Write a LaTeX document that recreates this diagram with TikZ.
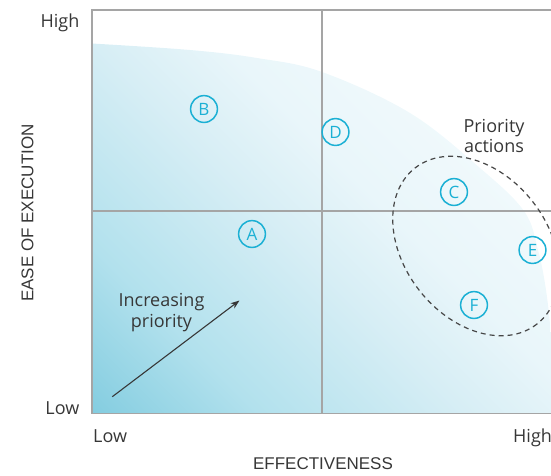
\documentclass[tikz,border=0pt]{standalone}
\usepackage{fontspec}
\setmainfont{Open Sans}
\newfontfamily\axisfont{Liberation Sans}
\usetikzlibrary{arrows.meta}
\definecolor{cy}{RGB}{27,176,212}
\definecolor{gridgray}{RGB}{165,165,165}
\definecolor{txt}{RGB}{55,55,55}
\definecolor{dashgray}{RGB}{70,70,70}
\definecolor{shA}{RGB}{132,205,224}
\definecolor{shB}{RGB}{178,225,237}
\definecolor{shC}{RGB}{215,238,245}
\definecolor{shD}{RGB}{233,246,250}
\definecolor{shE}{RGB}{250,253,254}
\pgfdeclarehorizontalshading{quadshade}{100bp}{color(0bp)=(shA); color(14.64bp)=(shA); color(28.8bp)=(shB); color(46.5bp)=(shC); color(57.1bp)=(shD); color(85.4bp)=(shE); color(100bp)=(shE)}
\begin{document}
\begin{tikzpicture}[x=1pt,y=-1pt,
  lbl/.style={font=\fontsize{18}{20}\selectfont, text=txt, inner sep=0pt},
  axt/.style={font=\axisfont\fontsize{17}{20}\selectfont, text=txt, inner sep=0pt},
  letter/.style={circle, draw=cy, line width=1.5pt, text=cy, minimum size=26.8pt, inner sep=0pt, font=\fontsize{17}{17}\selectfont},
  gridline/.style={draw=gridgray, line width=1.5pt},
  dashring/.style={draw=dashgray, line width=1.2pt, dash pattern=on 5pt off 4pt},
  arrowline/.style={draw=txt, line width=1.1pt, -{Stealth[length=9pt,width=6.5pt]}}
]
\useasboundingbox (0,0) rectangle (551,475);
\clip (0,0) rectangle (551,475);
% shaded area
\shade[shading=quadshade, shading angle=45]
  (92,413.5) -- plot[smooth, tension=0.6] coordinates {(92,43.5) (190,50) (257,58) (322,72) (410,113) (480,168) (524,211) (538,250) (546,290) (551,335) (554,380) (555,413.5)} -- cycle;
% frame and grid
\coordinate (fTL) at (92,10);
\coordinate (fBR) at (553,413.5);
\coordinate (vT) at (322,10);
\coordinate (vB) at (322,413.5);
\coordinate (hL) at (92,211);
\coordinate (hR) at (553,211);
\draw[gridline] (fTL) rectangle (fBR);
\draw[gridline] (vT) -- (vB);
\draw[gridline] (hL) -- (hR);
% priority ellipse
\coordinate (ec) at (476,246);
\draw[dashring, rotate around={-52:(ec)}] (ec) ellipse [x radius=99, y radius=72];
% items
\node[letter] (A) at (252,234) {A};
\node[letter] (B) at (204,109) {B};
\node[letter] (C) at (454,192) {C};
\node[letter] (D) at (335.5,132) {D};
\node[letter] (E) at (532.5,250) {E};
\node[letter] (F) at (474,305) {F};
% arrow
\coordinate (arrS) at (112.3,396.7);
\coordinate (arrE) at (239.5,300.5);
\draw[arrowline] (arrS) -- (arrE);
% labels
\node[lbl, anchor=base, align=center] (incr) at (161.5,327) {Increasing\\[1pt]priority};
\node[lbl, anchor=base, align=center] (prio) at (494,152) {Priority\\[0pt]actions};
\node[lbl, anchor=base east] (yHigh) at (79.5,27) {High};
\node[lbl, anchor=base east] (yLow) at (79.5,414) {Low};
\node[lbl, anchor=base west] (xLow) at (93,442) {Low};
\node[lbl, anchor=base west] (xHigh) at (513,442) {High};
\node[axt, anchor=base] (xTitle) at (323,469) {EFFECTIVENESS};
\node[axt, anchor=base, rotate=90] (yTitle) at (33.3,213) {EASE OF EXECUTION};
\end{tikzpicture}
\end{document}
